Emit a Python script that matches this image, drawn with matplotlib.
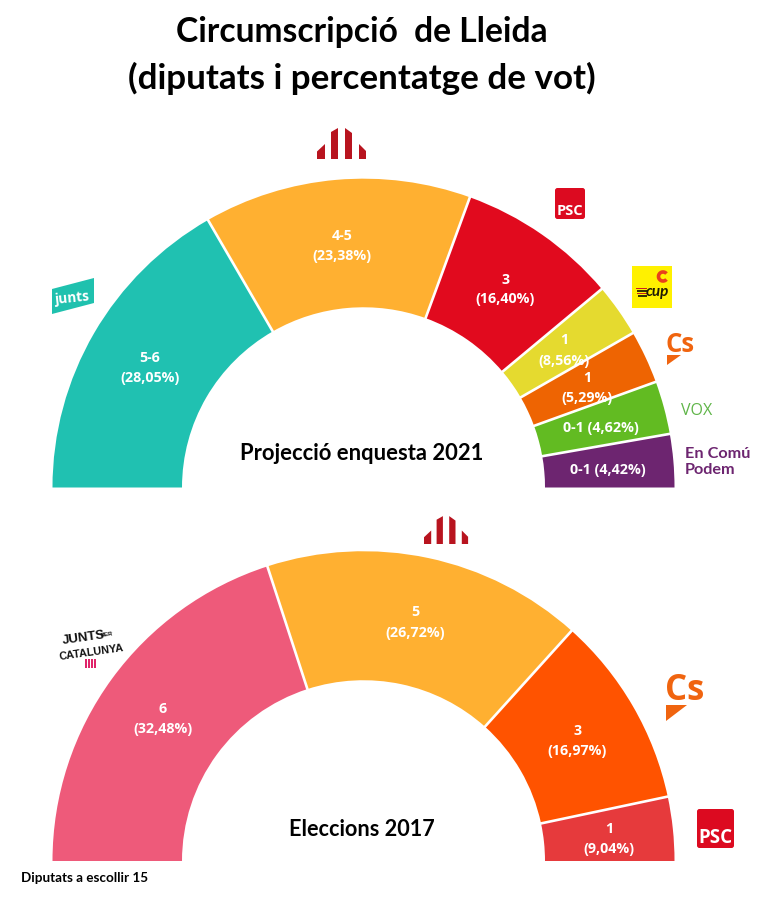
import numpy as np
import matplotlib
matplotlib.use("Agg")
import matplotlib.pyplot as plt
from matplotlib.patches import Wedge, Polygon, FancyBboxPatch, Rectangle, Arc
from matplotlib.transforms import Affine2D

W, H = 773, 904
FONT = ['Lato', 'DejaVu Sans']
OPEN = ['Open Sans', 'DejaVu Sans']
plt.rcParams['font.family'] = FONT

# Data: arc width is proportional to the upper seat count
parties_2021 = ['Junts', 'ERC', 'PSC', 'CUP', 'Cs', 'Vox', 'En Comú Podem']
arc_seats_2021 = [6, 5, 3, 1, 1, 1, 1]
seats_2021 = ['5-6', '4-5', '3', '1', '1', '0-1', '0-1']
votes_2021 = ['28,05', '23,38', '16,40', '8,56', '5,29', '4,62', '4,42']
colors_2021 = ['#20C1B1', '#FFB031', '#E10A1E', '#E5DA2F', '#EE6402', '#62BB22', '#6D2570']

parties_2017 = ['JxCat', 'ERC', 'Cs', 'PSC']
arc_seats_2017 = [6, 5, 3, 1]
seats_2017 = ['6', '5', '3', '1']
votes_2017 = ['32,48', '26,72', '16,97', '9,04']
colors_2017 = ['#EE5A7A', '#FFB031', '#FF5300', '#E63A3C']

# Label anchor pixels (centre x, first-line y, second-line y or None)
label_pos_2021 = [(150, 358, 378), (342, 236, 256), (505, 280, 299), (564, 340, 361),
                  (587, 378, 398), (601, 428, None), (608, 470, None)]
label_pos_2017 = [(163, 709, 729), (415, 612, 633), (577, 731, 751), (609, 829, 849)]

fig = plt.figure(figsize=(W / 100, H / 100), dpi=100, facecolor='white')
ax = fig.add_axes([0, 0, 1, 1])
ax.set_xlim(0, W)
ax.set_ylim(H, 0)   # y in pixels, downward
ax.axis('off')


def txt(x, y, s, size, color='white', weight='bold', **kw):
    kw.setdefault('ha', 'center')
    kw.setdefault('va', 'center')
    kw.setdefault('family', FONT)
    ax.text(x, y, s, fontsize=size, color=color, fontweight=weight, **kw)


def hemicycle(arc_seats, colors, seats, votes, positions, cy, squash, cx=363.5, r_out=311, r_in=181.5):
    step = 180 / sum(arc_seats)
    start = 0
    sq = Affine2D().translate(0, -cy).scale(1, squash).translate(0, cy) + ax.transData
    # inverted y axis: angles 180..360 draw the upper half on screen
    for n, col in zip(arc_seats, colors):
        a0 = 180 + start * step
        a1 = 180 + (start + n) * step
        ax.add_patch(Wedge((cx, cy), r_out, a0, a1, width=r_out - r_in, facecolor=col,
                           edgecolor='none', lw=0, zorder=2, transform=sq))
        start += n
    # white separators between slices
    cum = np.cumsum(arc_seats)[:-1]
    for c in cum:
        t = np.deg2rad(180 + c * step)
        ax.plot([cx + (r_in - 1) * np.cos(t), cx + (r_out + 1) * np.cos(t)],
                [cy + (r_in - 1) * np.sin(t), cy + (r_out + 1) * np.sin(t)],
                color='white', lw=1.9, zorder=3, solid_capstyle='butt', transform=sq)
    for (x, y1, y2), s, v in zip(positions, seats, votes):
        if y2 is None:
            txt(x, y1, f'{s} ({v}%)', 10.3, zorder=5, family=OPEN)
        else:
            txt(x, y1, s, 10.3, zorder=5, family=OPEN)
            txt(x, y2, f'({v}%)', 10.3, zorder=5, family=OPEN)


hemicycle(arc_seats_2021, colors_2021, seats_2021, votes_2021, label_pos_2021, cy=488.5, squash=0.993)
hemicycle(arc_seats_2017, colors_2017, seats_2017, votes_2017, label_pos_2017, cy=862, squash=0.996)

# Titles
txt(362, 32, 'Circumscripció  de Lleida', 24.2, color='black')
txt(362, 78, '(diputats i percentatge de vot)', 25.2, color='black')
txt(362, 453.5, 'Projecció enquesta 2021', 15.8, color='black')
txt(362, 829.5, 'Eleccions 2017', 15.6, color='black')
txt(21, 878.5, 'Diputats a escollir 15', 9.7, color='black', ha='left')


# Logos
def poly(pts, color):
    ax.add_patch(Polygon(pts, closed=True, facecolor=color, edgecolor='none', zorder=4))


def erc_logo(x0, y_bot, s):
    col = '#B8141F'
    bars = [[(0, 0), (0, 7.5), (8, 15), (8, 0)],
            [(14, 0), (14, 27), (21, 31), (21, 0)],
            [(28, 0), (28, 31), (35, 26), (35, 0)],
            [(42, 0), (42, 15), (49, 8), (49, 0)]]
    for b in bars:
        poly([(x0 + px * s, y_bot - py * s) for px, py in b], col)


def psc_logo(x0, y0, w, h, size):
    ax.add_patch(FancyBboxPatch((x0 + 2, y0 + 2), w - 4, h - 4, boxstyle='round,pad=2,rounding_size=2.5',
                                facecolor='#DC0A20', edgecolor='none', zorder=4))
    txt(x0 + w / 2, y0 + h * 0.71, 'PSC', size, zorder=5, family=OPEN)


def cs_logo(xc, yc, size, tri):
    txt(xc, yc, 'Cs', size, color='#F0640F', zorder=5, family=OPEN)
    poly(tri, '#F0640F')


erc_logo(317, 160, 1.0)
erc_logo(424, 545, 0.9)

# junts
poly([(52, 290), (94, 279), (94, 304), (52, 315)], '#1FC1AE')
txt(73, 298, 'junts', 9.8, rotation=6, zorder=5, family=OPEN)

psc_logo(555, 189, 30, 31, 10.5)
psc_logo(697, 810, 37, 39, 13.5)

# CUP
ax.add_patch(Rectangle((632, 267), 40, 42, facecolor='#FFF100', edgecolor='none', zorder=4))
for i, c in enumerate(['#C9201E', '#333300', '#C9201E', '#333300']):
    ax.add_patch(Rectangle((636 + i * 0.6, 288.5 + i * 2.6), 11 - i * 0.6, 1.6, facecolor=c,
                           edgecolor='none', zorder=5))
txt(657.5, 292, 'cup', 11, color='#1E1A05', style='italic', zorder=5)
ax.add_patch(Arc((663, 277.5), 9, 9, theta1=40, theta2=320, edgecolor='#E8401C', lw=2.6, zorder=5))

cs_logo(680.5, 345, 18.5, [(667, 356), (681, 356), (667, 366)])
cs_logo(685, 691, 25, [(666, 706), (687, 706), (666, 722)])

txt(697, 411, 'VOX', 11.5, color='#5FB548', weight='normal', zorder=5, family=OPEN)

txt(685, 454.5, 'En Comú', 11.7, color='#6D2570', ha='left', zorder=5)
txt(685, 470.5, 'Podem', 11.7, color='#6D2570', ha='left', zorder=5)

# Junts per Catalunya
NARROW = ['Liberation Sans', 'DejaVu Sans']
txt(84, 638, 'JUNTS', 9.5, color='#111111', rotation=8, family=NARROW, zorder=5)
txt(107, 635, 'PER', 4.5, color='#111111', rotation=8, family=NARROW, zorder=5)
txt(91, 652, 'CATALUNYA', 7.8, color='#111111', rotation=8, family=NARROW, zorder=5)
for i in range(4):
    ax.add_patch(Rectangle((85 + i * 3.1, 660), 2, 9, facecolor='#E0246A', edgecolor='none', zorder=5))

fig.savefig('out.png', dpi=100, facecolor='white')
